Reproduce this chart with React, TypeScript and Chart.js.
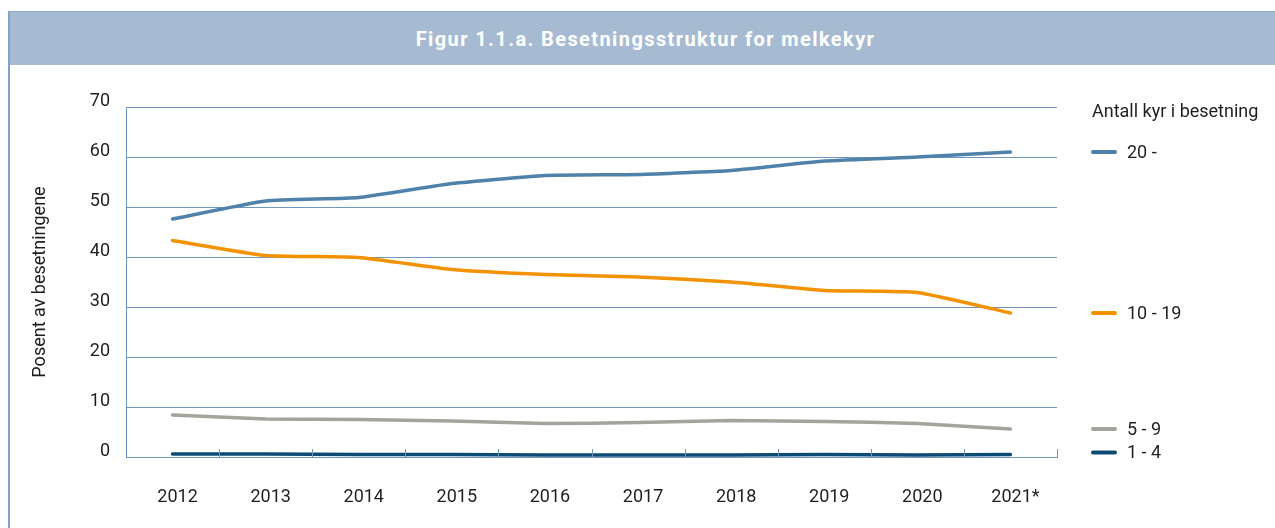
import React, { useEffect, useRef } from "react";
import { Chart, registerables } from "chart.js";

Chart.register(...registerables);

const years = ["2012", "2013", "2014", "2015", "2016", "2017", "2018", "2019", "2020", "2021*"];
const herd20plus = [47.6, 51.2, 51.9, 54.7, 56.3, 56.5, 57.3, 59.2, 60.0, 61.0];
const herd10to19 = [43.3, 40.3, 39.9, 37.5, 36.5, 36.0, 35.0, 33.3, 32.9, 28.8];
const herd5to9 = [8.4, 7.6, 7.5, 7.2, 6.7, 6.9, 7.3, 7.1, 6.7, 5.6];
const herd1to4 = [0.6, 0.6, 0.5, 0.5, 0.4, 0.4, 0.4, 0.5, 0.4, 0.5];
const seriesLabels = ["20 -", "10 - 19", "5 - 9", "1 - 4"];
const seriesColors = ["#4f82aa", "#f39200", "#a3a49b", "#0d4b75"];
const yTicks = [0, 10, 20, 30, 40, 50, 60, 70];

const titleText = "Figur 1.1.a. Besetningsstruktur for melkekyr";
const yTitle = "Posent av besetningene";
const legendTitle = "Antall kyr i besetning";

const gridColor = "#7196bb";
const textColor = "#1f1f1f";
const FONT = "Roboto";
const FS = 18;

const extrasPlugin = {
  id: "extras",
  afterDraw(chart: any) {
    const { ctx, chartArea } = chart;
    const n = years.length;
    const step = (chartArea.right - chartArea.left) / n;
    ctx.save();
    ctx.strokeStyle = gridColor;
    ctx.lineWidth = 1;
    for (let i = 1; i <= n; i++) {
      const x = Math.round(chartArea.left + i * step) + 0.5;
      ctx.beginPath();
      ctx.moveTo(x, chartArea.bottom);
      ctx.lineTo(x, chartArea.bottom - 8);
      ctx.stroke();
    }
    const lx = chartArea.right + 34;
    ctx.font = `${FS}px ${FONT}`;
    ctx.fillStyle = textColor;
    ctx.textBaseline = "middle";
    ctx.textAlign = "left";
    ctx.fillText(legendTitle, lx + 1, chartArea.top + 5);
    const yScale = chart.scales.y;
    chart.data.datasets.forEach((ds: any, i: number) => {
      const last = ds.data[ds.data.length - 1];
      let y = yScale.getPixelForValue(last);
      if (i === 3) y -= 2;
      ctx.strokeStyle = seriesColors[i];
      ctx.lineWidth = 4;
      ctx.lineCap = "round";
      ctx.beginPath();
      ctx.moveTo(lx + 2, y);
      ctx.lineTo(lx + 24, y);
      ctx.stroke();
      ctx.fillStyle = textColor;
      ctx.fillText(seriesLabels[i], lx + 36, y + 1);
    });
    ctx.restore();
  },
};

export default function App() {
  const ref = useRef<HTMLCanvasElement>(null);
  useEffect(() => {
    if (!ref.current) return;
    const data = [herd20plus, herd10to19, herd5to9, herd1to4];
    const chart = new Chart(ref.current, {
      type: "line",
      data: {
        labels: years,
        datasets: data.map((d, i) => ({
          label: seriesLabels[i],
          data: d,
          borderColor: seriesColors[i],
          backgroundColor: seriesColors[i],
          borderWidth: 3.5,
          pointRadius: 0,
          tension: 0.15,
          borderCapStyle: "round" as const,
          borderJoinStyle: "round" as const,
        })),
      },
      options: {
        animation: false,
        responsive: false,
        maintainAspectRatio: false,
        layout: { padding: { top: 42, right: 218, left: 0, bottom: 0 } },
        plugins: { legend: { display: false }, tooltip: { enabled: false }, title: { display: false } },
        scales: {
          x: {
            offset: true,
            grid: { display: false, drawTicks: false },
            border: { display: true, color: gridColor, width: 1 },
            ticks: { color: textColor, font: { family: FONT, size: FS }, padding: 30, labelOffset: 5, maxRotation: 0 },
            afterFit(scale: any) { scale.height = 71; },
          },
          y: {
            min: 0,
            max: 70,
            afterBuildTicks(scale: any) { scale.ticks = yTicks.map((v) => ({ value: v })); },
            grid: { color: gridColor, lineWidth: 1, drawTicks: false },
            border: { display: true, color: gridColor, width: 1 },
            ticks: { color: textColor, font: { family: FONT, size: FS }, padding: 16, labelOffset: -6 },
            title: { display: true, text: yTitle, color: textColor, font: { family: FONT, size: FS }, padding: { top: 20, bottom: 0 } },
            afterFit(scale: any) { scale.width = 116; },
          },
        },
      },
      plugins: [extrasPlugin],
    });
    return () => chart.destroy();
  }, []);

  return (
    <div style={{ position: "absolute", left: 8, top: 11, width: 1267, height: 517, borderLeft: "2px solid #7fa3c8", boxSizing: "border-box" }}>
      <div
        style={{
          height: 54,
          background: "#a6bbd2",
          borderTop: "1px solid #8fa9c5",
          boxSizing: "border-box",
          color: "#ffffff",
          fontFamily: "Roboto, sans-serif",
          fontWeight: 700,
          fontSize: 20,
          display: "flex",
          alignItems: "center",
          justifyContent: "center",
          letterSpacing: "1.4px",
          paddingLeft: 6,
        }}
      >
        {titleText}
      </div>
      <canvas ref={ref} width={1265} height={463} style={{ display: "block" }} />
    </div>
  );
}
